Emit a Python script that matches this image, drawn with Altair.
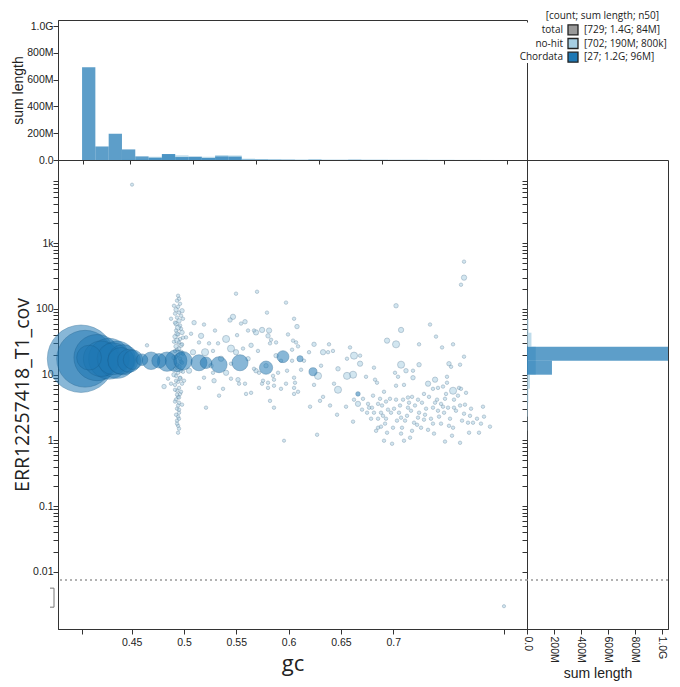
import altair as alt
import pandas as pd

# ------------------------------------------------------------------ colours
BLUE = "#1f78b4"
LIGHT_BLUE = "#a6cee3"
GREY = "#999999"
INK = "#333333"

# ------------------------------------------------------------------ scales
GC_DOMAIN = [0.3795, 0.8279]
COV_DOMAIN = [0.00135, 18500]
SUM_DOMAIN = [0, 1045]          # Mb
ZERO_COV_LINE = 0.0075          # boundary of the zero-coverage band
ZERO_BRACKET = [0.00565, 0.0029]

gc_ticks = [0.4025, 0.45, 0.5, 0.55, 0.6, 0.65, 0.7, 0.806]
hist_gc_ticks = [0.4034, 0.4484, 0.5086, 0.5688, 0.629, 0.689, 0.7486, 0.8088]
cov_decades = [0.01, 0.1, 1, 10, 100, 1000]
cov_ticks = [m * d for d in cov_decades for m in range(1, 10)]
sum_ticks = [0, 200, 400, 600, 800, 1000]

# ------------------------------------------------------------------ contigs
# Chordata: GC proportion, coverage, length (Mb)
chordata_gc = [0.4015, 0.4054, 0.4168, 0.4283, 0.4359, 0.4207, 0.4321, 0.4417, 0.4398,
               0.4474, 0.4512, 0.4092, 0.4598, 0.4685, 0.4761, 0.4837, 0.4924, 0.4990,
               0.5143, 0.5210, 0.5335, 0.5535, 0.5784, 0.5946, 0.6109, 0.6233, 0.6663]
chordata_cov = [17.5, 17.5, 18.2, 17.5, 16.9, 17.5, 17.5, 16.9, 16.3,
                16.3, 16.9, 18.2, 16.9, 16.3, 16.3, 15.8, 16.3, 16.3,
                15.2, 15.2, 14.2, 15.2, 12.8, 18.8, 17.5, 11.1, 5.1]
chordata_len = [275, 195, 128.6, 100.6, 83.7, 75.8, 61.3, 54.7, 42.4,
                31.8, 22.5, 36.8, 7.5, 18, 12, 22, 28, 20,
                15, 7.5, 15, 15, 10, 8, 1.7, 3.3, 0.6]

# no-hit: GC proportion, coverage, length (Mb)
nohit_gc = [
    0.4943, 0.4952, 0.4933, 0.4962, 0.4943, 0.4924, 0.4952, 0.4971, 0.4933, 0.4952,
    0.4914, 0.4962, 0.4943, 0.4924, 0.4981, 0.4943, 0.4914, 0.4962, 0.4933, 0.4952,
    0.4981, 0.4924, 0.4952, 0.4914, 0.4971, 0.4943, 0.4924, 0.4962, 0.4981, 0.4933,
    0.4952, 0.4914, 0.4971, 0.4943, 0.4924, 0.4962, 0.4943, 0.4914, 0.4952, 0.4933,
    0.4962, 0.4943, 0.4924, 0.4952, 0.4943, 0.4933, 0.4952, 0.4943, 0.4933, 0.4943,
    0.4943, 0.4503, 0.4646, 0.4809, 0.4847, 0.4876, 0.4876, 0.5000, 0.5019, 0.5048,
    0.5067, 0.5096, 0.5086, 0.5143, 0.5143, 0.5191, 0.5191, 0.5201, 0.5210, 0.5239,
    0.5277, 0.5277, 0.5287, 0.5296, 0.5325, 0.5335, 0.5373, 0.5402, 0.5402, 0.5440,
    0.5449, 0.5449, 0.5449, 0.5468, 0.5497, 0.5507, 0.5516, 0.5526, 0.5545, 0.5564,
    0.5583, 0.5583, 0.5593, 0.5612, 0.5612, 0.5641, 0.5669, 0.5669, 0.5688, 0.5688,
    0.5698, 0.5717, 0.5746, 0.5746, 0.5755, 0.5784, 0.5793, 0.5803, 0.5803, 0.5813,
    0.5822, 0.5822, 0.5832, 0.5851, 0.5860, 0.5860, 0.5860, 0.5880, 0.5899, 0.5927,
    0.5927, 0.5956, 0.5975, 0.5975, 0.5994, 0.6033, 0.6033, 0.6042, 0.6052, 0.6052,
    0.6052, 0.6052, 0.6071, 0.6061, 0.6080, 0.6090, 0.6090, 0.6119, 0.6195, 0.6205,
    0.6243, 0.6243, 0.6272, 0.6281, 0.6300, 0.6329, 0.6329, 0.6377, 0.6386, 0.6396,
    0.6424, 0.6434, 0.6463, 0.6472, 0.6472, 0.6549, 0.6558, 0.6558, 0.6587, 0.6616,
    0.6616, 0.6625, 0.6625, 0.6663, 0.6683, 0.6683, 0.6702, 0.6740, 0.6759, 0.6769,
    0.6788, 0.6797, 0.6816, 0.6816, 0.6826, 0.6845, 0.6855, 0.6855, 0.6855, 0.6893,
    0.6883, 0.6883, 0.6912, 0.6912, 0.6931, 0.6922, 0.6931, 0.6941, 0.6950, 0.6989,
    0.6998, 0.7008, 0.7017, 0.7027, 0.7027, 0.7027, 0.7027, 0.7046, 0.7055, 0.7075,
    0.7075, 0.7075, 0.7075, 0.7094, 0.7103, 0.7103, 0.7113, 0.7122, 0.7141, 0.7141,
    0.7161, 0.7180, 0.7170, 0.7189, 0.7189, 0.7199, 0.7237, 0.7237, 0.7247, 0.7247,
    0.7247, 0.7266, 0.7294, 0.7294, 0.7314, 0.7333, 0.7333, 0.7352, 0.7380, 0.7380,
    0.7380, 0.7400, 0.7400, 0.7409, 0.7428, 0.7428, 0.7457, 0.7457, 0.7467, 0.7476,
    0.7476, 0.7495, 0.7495, 0.7514, 0.7514, 0.7524, 0.7533, 0.7533, 0.7553, 0.7572,
    0.7572, 0.7572, 0.7581, 0.7581, 0.7629, 0.7639, 0.7639, 0.7639, 0.7648, 0.7648,
    0.7677, 0.7677, 0.7677, 0.7677, 0.7696, 0.7715, 0.7725, 0.7734, 0.7763, 0.7839,
    0.7858, 0.7868, 0.7925, 0.8059, 0.5803,
    # GC ~0.49 column, second pass
    0.4904, 0.4981, 0.4914, 0.4990, 0.4924, 0.4971, 0.4933, 0.4990, 0.4904, 0.4971,
    0.4933, 0.4990, 0.4904, 0.4971, 0.4933, 0.4990, 0.4904, 0.4962, 0.4924, 0.4981,
    0.4914, 0.4971, 0.4933, 0.4952, 0.4914, 0.4981, 0.4952, 0.4924, 0.4952, 0.4933,
    0.4952,
    # high-GC, low-coverage cloud, second pass
    0.6711, 0.6750, 0.6807, 0.6836, 0.6874, 0.6902, 0.6941, 0.6969, 0.6979, 0.7036,
    0.7065, 0.7084, 0.7132, 0.7151, 0.7180, 0.7208, 0.7228, 0.7275, 0.7304, 0.7342,
    0.7361, 0.7390, 0.7419, 0.7438, 0.7486, 0.7505, 0.7543, 0.7562, 0.7600, 0.7619,
    0.7658, 0.7686, 0.7744, 0.7801, 0.7820,
    # mid-GC scatter, second pass
    0.5163, 0.5354, 0.5497, 0.5641, 0.5258, 0.5707, 0.5880, 0.5985, 0.6147, 0.6310,
]
nohit_cov = [
    159, 143, 134, 120, 108, 97.5, 88, 79, 74, 66,
    62, 56, 52, 47, 44, 41, 38, 35, 33, 31,
    29, 27, 25, 23, 22, 20, 18.8, 17.5, 15.2, 14.2,
    13.2, 12.3, 11.5, 10.7, 9.6, 8.7, 7.8, 7.0, 6.3, 5.7,
    5.1, 4.6, 4.2, 3.75, 3.4, 3.04, 2.64, 2.3, 2.0, 1.67,
    1.31, 7800, 28, 6.6, 8.7, 7.3, 71, 8.1, 37, 11.5,
    42, 62, 22, 31, 6.3, 58, 9.0, 22, 3.15, 30,
    23, 10.7, 8.1, 47, 30, 4.8, 6.1, 35, 10.7, 68,
    25, 14.7, 8.7, 76, 171, 40, 8.4, 7.3, 60, 25,
    64, 7.3, 5.1, 47, 17.5, 5.3, 47, 12.3, 44, 11.5,
    183, 10.7, 48, 7.3, 8.1, 13.7, 88, 39, 6.3, 47,
    30, 4.0, 34, 9.6, 8.4, 6.8, 3.15, 31, 10.7, 16.3,
    6.1, 0.99, 125, 7.3, 41, 24, 16.3, 33, 71, 9.0,
    6.3, 5.1, 31, 7.55, 54, 27, 5.5, 11.9, 22, 3.26,
    29, 7.0, 1.22, 9.6, 4.0, 22, 4.6, 22, 29, 3.4,
    23, 7.3, 2.46, 12.3, 5.9, 3.26, 17.5, 9.6, 26, 10.0,
    1.93, 19.5, 4.17, 3.6, 19.5, 14.7, 2.94, 9.3, 3.6, 3.15,
    2.14, 3.15, 12.8, 2.64, 8.4, 7.55, 3.6, 2.14, 1.56, 3.4,
    2.64, 1.62, 5.5, 0.99, 3.9, 1.80, 2.14, 33, 2.94, 0.89,
    1.56, 3.04, 10.7, 112, 29, 6.8, 4.17, 9.3, 2.64, 48,
    14.2, 2.22, 1.27, 4.17, 7.0, 0.99, 2.0, 11.5, 4.5, 3.15,
    1.10, 4.6, 2.83, 11.5, 9.0, 1.86, 4.17, 2.22, 29, 14.2,
    2.64, 1.56, 5.1, 2.07, 3.04, 7.3, 1.45, 58, 6.1, 3.15,
    1.80, 8.4, 3.75, 38, 6.3, 2.83, 3.6, 1.80, 26, 6.6,
    3.26, 4.3, 0.96, 9.3, 7.55, 3.15, 14.7, 1.67, 13.2, 29,
    5.7, 1.56, 4.17, 3.15, 6.3, 14.2, 3.4, 0.92, 234, 6.1,
    525, 300, 18.8, 2.55, 5.3, 1.86, 1.31, 2.37, 1.86, 1.80,
    3.26, 2.30, 1.62, 0.003, 7.55,
    # GC ~0.49 column, second pass
    112, 94, 85, 71, 59.7, 50, 42, 36.6, 31.8, 28,
    24, 20.9, 18.2, 15.8, 12.8, 11.1, 10.0, 9.0, 8.1, 7.3,
    5.9, 5.5, 4.96, 4.5, 3.9, 3.5, 2.94, 2.46, 2.14, 1.80,
    1.51,
    # high-GC, low-coverage cloud, second pass
    4.3, 2.64, 4.8, 1.40, 4.3, 2.37, 1.31, 4.3, 2.64, 2.0,
    3.4, 1.56, 2.37, 3.75, 1.40, 3.4, 1.73, 3.75, 2.46, 4.6,
    2.14, 1.27, 4.17, 2.30, 2.64, 5.1, 2.14, 1.18, 2.83, 4.8,
    2.0, 3.5, 3.04, 2.14, 1.31,
    # mid-GC scatter, second pass
    39, 17.5, 22, 28, 13.7, 23, 19.5, 11.5, 16.3, 13.7,
]
nohit_len = [
    0.12, 0.12, 0.12, 0.12, 0.12, 0.58, 0.12, 0.12, 0.12, 0.58,
    0.12, 0.12, 1.1, 0.12, 0.58, 0.12, 0.58, 0.12, 1.1, 0.12,
    0.12, 0.58, 0.12, 0.12, 0.58, 0.12, 0.12, 0.12, 0.12, 0.12,
    0.58, 0.12, 0.12, 0.12, 0.12, 0.58, 0.12, 0.12, 0.12, 0.12,
    0.12, 0.12, 0.12, 0.12, 0.12, 0.12, 0.12, 0.12, 0.12, 0.12,
    0.12, 0.01, 0.12, 0.58, 0.12, 0.12, 0.12, 0.12, 0.12, 1.1,
    0.12, 0.58, 1.1, 0.12, 0.12, 0.12, 0.12, 2.45, 0.12, 0.12,
    0.12, 0.12, 0.58, 0.12, 0.12, 0.12, 0.12, 2.45, 1.1, 0.58,
    2.45, 0.12, 0.12, 1.1, 0.12, 0.12, 0.58, 0.12, 0.12, 0.12,
    0.58, 0.12, 0.12, 0.12, 0.58, 0.12, 0.12, 0.12, 1.1, 0.58,
    0.12, 0.12, 1.1, 0.12, 0.12, 0.58, 0.12, 0.58, 0.12, 1.1,
    0.12, 0.12, 0.12, 0.12, 0.12, 0.12, 0.12, 0.12, 0.12, 0.12,
    0.12, 0.01, 0.12, 0.12, 0.12, 0.12, 0.12, 0.12, 0.12, 0.12,
    0.12, 0.12, 0.12, 0.12, 0.58, 0.12, 0.12, 0.12, 0.12, 0.12,
    0.58, 0.12, 0.12, 2.45, 0.12, 1.1, 0.12, 0.12, 0.12, 0.12,
    0.12, 0.12, 0.12, 0.58, 2.45, 0.12, 0.12, 2.45, 0.12, 2.45,
    0.12, 2.45, 0.12, 1.1, 0.12, 1.1, 0.12, 0.12, 0.12, 0.12,
    0.12, 0.12, 0.12, 0.12, 0.12, 0.12, 0.12, 0.12, 0.12, 0.12,
    0.12, 0.12, 0.12, 0.12, 0.12, 0.12, 0.12, 1.1, 0.12, 0.12,
    0.12, 0.12, 0.12, 0.58, 2.45, 0.12, 0.12, 0.12, 0.12, 1.1,
    2.45, 0.12, 0.12, 0.12, 0.12, 0.12, 0.12, 0.58, 0.12, 0.12,
    0.12, 0.12, 0.12, 0.12, 0.58, 0.12, 0.12, 0.12, 0.12, 0.58,
    0.12, 0.12, 0.12, 0.12, 0.12, 1.1, 0.12, 0.12, 0.12, 0.12,
    0.12, 1.1, 0.12, 0.12, 0.12, 0.12, 0.12, 0.12, 0.12, 0.12,
    0.12, 0.12, 0.12, 0.12, 0.12, 0.12, 0.58, 0.12, 0.12, 0.12,
    2.45, 0.12, 0.12, 0.12, 0.12, 0.12, 0.12, 0.12, 0.12, 0.12,
    0.12, 1.1, 0.12, 0.12, 0.12, 0.12, 0.12, 0.12, 0.12, 0.12,
    0.12, 0.12, 0.12, 0.01, 0.12,
    # GC ~0.49 column, second pass
    0.12, 0.58, 0.12, 0.12, 0.58, 0.12, 0.58, 0.12, 0.12, 0.58,
    0.12, 0.12, 0.58, 0.12, 0.12, 0.12, 0.58, 0.12, 0.12, 0.12,
    0.12, 0.12, 0.12, 0.12, 0.12, 0.12, 0.12, 0.12, 0.12, 0.12,
    0.12,
    # high-GC, low-coverage cloud, second pass
    0.12, 0.12, 0.12, 0.12, 0.12, 0.12, 0.12, 0.12, 0.12, 0.12,
    0.12, 0.12, 0.12, 0.12, 0.12, 0.12, 0.12, 0.12, 0.12, 0.12,
    0.12, 0.12, 0.12, 0.12, 0.12, 0.12, 0.12, 0.12, 0.12, 0.12,
    0.12, 0.12, 0.12, 0.12, 0.12,
    # mid-GC scatter, second pass
    1.1, 1.1, 1.1, 0.58, 0.58, 0.12, 0.58, 0.12, 0.12, 0.12,
]

# ------------------------------------------------------------------ histograms
# sum of contig length (Mb) per GC bin
GC_BIN_START = 0.4025
GC_BIN_WIDTH = 0.01272
gc_hist_chordata = [692, 101, 196, 79, 27, 16, 45, 22, 25, 15, 27, 25, 3, 3, 2, 1,
                    0, 1, 0, 0, 1, 0, 0, 0, 0, 0, 0, 0, 0, 0, 0, 0]
gc_hist_nohit = [0, 0, 0, 2, 4, 24, 42, 35, 22, 24, 37, 34, 10, 7, 6, 6,
                 5, 5, 4, 4, 5, 4, 4, 3, 3, 3, 2, 2, 1, 1, 0.5, 0.3]

# sum of contig length (Mb) per log10(coverage) bin
COV_BIN_START = -0.065
COV_BIN_WIDTH = 0.213
cov_hist_chordata = [0, 0, 0, 0.6, 0, 185, 1050, 0, 0, 0, 0, 0, 0]
cov_hist_nohit = [1, 3, 6, 10, 22, 65, 65, 33, 11, 2, 1, 0.5, 0.5]

# ------------------------------------------------------------------ legend
legend_names = ["total", "no-hit", "Chordata"]
legend_stats = ["[729; 1.4G; 84M]", "[702; 190M; 800k]", "[27; 1.2G; 96M]"]
legend_colors = [GREY, LIGHT_BLUE, BLUE]
legend_header = "[count; sum length; n50]"

# ------------------------------------------------------------------ tables
cats = ["no-hit", "Chordata"]
cat_fill = alt.Scale(domain=cats, range=[LIGHT_BLUE, BLUE])
cat_stroke = alt.Scale(domain=cats, range=["#62859e", "#1a5f8f"])
cat_opacity = alt.Scale(domain=cats, range=[0.72, 0.75])

nohit_df = pd.DataFrame({"gc": nohit_gc, "cov": nohit_cov, "len": nohit_len, "cat": "no-hit"})
chord_df = pd.DataFrame({"gc": chordata_gc, "cov": chordata_cov, "len": chordata_len, "cat": "Chordata"})
points = pd.concat([
    nohit_df.sort_values("len", ascending=False),
    chord_df.sort_values("len", ascending=False),
], ignore_index=True)

gc_rows = []
for cat, vals in (("no-hit", gc_hist_nohit), ("Chordata", gc_hist_chordata)):
    for i, v in enumerate(vals):
        lo = GC_BIN_START + i * GC_BIN_WIDTH
        gc_rows.append({"lo": lo, "hi": lo + GC_BIN_WIDTH, "value": v, "cat": cat})
gc_hist = pd.DataFrame(gc_rows)

cov_rows = []
for cat, vals in (("no-hit", cov_hist_nohit), ("Chordata", cov_hist_chordata)):
    for i, v in enumerate(vals):
        e = COV_BIN_START + i * COV_BIN_WIDTH
        cov_rows.append({"lo": 10 ** e, "hi": 10 ** (e + COV_BIN_WIDTH), "value": v, "cat": cat})
cov_hist = pd.DataFrame(cov_rows)

# ------------------------------------------------------------------ scales / axes
gc_scale = alt.Scale(domain=GC_DOMAIN, nice=False, zero=False)
cov_scale = alt.Scale(type="log", domain=COV_DOMAIN, nice=False)
sum_scale = alt.Scale(domain=SUM_DOMAIN, nice=False, zero=True)

SUM_LABEL = ("datum.value == 0 ? '0.0' : (datum.value >= 1000 ? "
             "format(datum.value / 1000, '.1f') + 'G' : datum.value + 'M')")
COV_LABEL = ("datum.value == 1000 ? '1k' : ((datum.value == 0.01 || datum.value == 0.1 || "
             "datum.value == 1 || datum.value == 10 || datum.value == 100) ? "
             "format(datum.value, '~g') : '')")
GC_LABEL = "(datum.value > 0.44 && datum.value < 0.72) ? format(datum.value, '~g') : ''"

W_MAIN, H_MAIN = 469, 469
H_TOP = 140
W_RIGHT = 141

# ------------------------------------------------------------------ main blob plot
scatter = alt.Chart(points).mark_circle(strokeWidth=0.8, strokeOpacity=0.7).encode(
    x=alt.X("gc:Q", scale=gc_scale,
            axis=alt.Axis(values=gc_ticks, labelExpr=GC_LABEL, title="gc",
                          titleFont="Open Sans", titleFontSize=22, titleFontWeight="normal",
                          titlePadding=6, tickSize=5, labelPadding=3)),
    y=alt.Y("cov:Q", scale=cov_scale,
            axis=alt.Axis(values=cov_ticks, labelExpr=COV_LABEL, labelOverlap=False,
                          title="ERR12257418_T1_cov", titleFont="Open Sans",
                          titleFontSize=19.5, titleFontWeight="normal",
                          titlePadding=0, tickSize=5, labelPadding=0, orient="left")),
    size=alt.Size("len:Q", scale=alt.Scale(domain=[0, 275], range=[10, 4536]), legend=None),
    color=alt.Color("cat:N", scale=cat_fill, legend=None),
    stroke=alt.Stroke("cat:N", scale=cat_stroke, legend=None),
    fillOpacity=alt.FillOpacity("cat:N", scale=cat_opacity, legend=None),
)

zero_line_main = alt.Chart(pd.DataFrame({"cov": [ZERO_COV_LINE]})).mark_rule(
    color=GREY, strokeDash=[2, 3], strokeWidth=1.5
).encode(
    y=alt.Y("cov:Q", scale=cov_scale,
            axis=alt.Axis(values=cov_ticks, orient="right", labels=False, domain=False,
                          tickSize=5, offset=-5, title=None)),
)

bracket_v = alt.Chart(pd.DataFrame({"lo": [ZERO_BRACKET[0]], "hi": [ZERO_BRACKET[1]]})).mark_rule(
    color="#777777", strokeWidth=1
).encode(x=alt.value(-4), y=alt.Y("lo:Q", scale=cov_scale, axis=None), y2="hi:Q")

bracket_h = alt.Chart(pd.DataFrame({"cov": ZERO_BRACKET})).mark_rule(
    color="#777777", strokeWidth=1
).encode(x=alt.value(-8), x2=alt.value(-4), y=alt.Y("cov:Q", scale=cov_scale, axis=None))

main = alt.layer(scatter, zero_line_main, bracket_v, bracket_h).resolve_axis(
    y="independent"
).properties(width=W_MAIN, height=H_MAIN)

# ------------------------------------------------------------------ GC histogram (top)
top_bars = alt.Chart(gc_hist).mark_rect(opacity=0.72).encode(
    x=alt.X("lo:Q", scale=gc_scale,
            axis=alt.Axis(values=hist_gc_ticks, labels=False, tickSize=4, title=None)),
    x2="hi:Q",
    y=alt.Y("value:Q", scale=sum_scale, stack=None,
            axis=alt.Axis(values=sum_ticks, labelExpr=SUM_LABEL, title="sum length",
                          titleFont="Liberation Sans", titleFontSize=14,
                          titleFontWeight="normal", titlePadding=1, labelPadding=0,
                          tickSize=5)),
    y2=alt.datum(0),
    color=alt.Color("cat:N", scale=cat_fill, legend=None),
)

one = pd.DataFrame({"k": [0]})
legend_layers = [
    alt.Chart(one).mark_rect(fill="white").encode(
        x=alt.value(462), x2=alt.value(604), y=alt.value(2.5), y2=alt.value(43)),
    alt.Chart(one).mark_text(align="right", baseline="middle", font="Open Sans",
                             fontSize=10, color="#222222").encode(
        x=alt.value(601), y=alt.value(-4), text=alt.value(legend_header)),
]
for i, (name, stat, col) in enumerate(zip(legend_names, legend_stats, legend_colors)):
    row_y = 9.8 + 13.7 * i
    legend_layers += [
        alt.Chart(one).mark_text(align="right", baseline="middle", font="Open Sans",
                                 fontSize=10, color="#222222").encode(
            x=alt.value(505), y=alt.value(row_y), text=alt.value(name)),
        alt.Chart(one).mark_square(size=100, opacity=1, stroke="#222222",
                                   strokeWidth=1.3).encode(
            x=alt.value(515), y=alt.value(row_y), color=alt.value(col)),
        alt.Chart(one).mark_text(align="left", baseline="middle", font="Open Sans",
                                 fontSize=10, color="#222222").encode(
            x=alt.value(526), y=alt.value(row_y), text=alt.value(stat)),
    ]

top = alt.layer(top_bars, *legend_layers).properties(width=W_MAIN, height=H_TOP)

# ------------------------------------------------------------------ coverage histogram (right)
right_bars = alt.Chart(cov_hist).mark_rect(opacity=0.72, clip=True).encode(
    y=alt.Y("lo:Q", scale=cov_scale, axis=None),
    y2="hi:Q",
    x=alt.X("value:Q", scale=sum_scale, stack=None,
            axis=alt.Axis(values=sum_ticks, labelExpr=SUM_LABEL, labelAngle=90,
                          title="sum length", titleFont="Liberation Sans",
                          titleFontSize=14, titleFontWeight="normal",
                          titlePadding=4, tickSize=5, labelPadding=2)),
    x2=alt.datum(0),
    color=alt.Color("cat:N", scale=cat_fill, legend=None),
)

zero_line_right = alt.Chart(pd.DataFrame({"cov": [ZERO_COV_LINE]})).mark_rule(
    color=GREY, strokeDash=[2, 3], strokeWidth=1.5
).encode(y=alt.Y("cov:Q", scale=cov_scale, axis=None))

right = alt.layer(right_bars, zero_line_right).properties(width=W_RIGHT, height=H_MAIN)

# ------------------------------------------------------------------ assemble
chart = alt.vconcat(
    top,
    alt.hconcat(main, right, spacing=0, bounds="flush"),
    spacing=0,
    bounds="flush",
).properties(
    padding={"left": 11, "top": 10, "right": 5, "bottom": 5},
).configure_axis(
    labelFont="Liberation Sans", labelFontSize=10.5, labelColor="#222222",
    domainColor=INK, tickColor=INK, titleColor="#222222", grid=False,
).configure_view(
    stroke=INK, strokeWidth=1,
)

chart.save("out.html", embed_options={"renderer": "svg", "actions": False})
